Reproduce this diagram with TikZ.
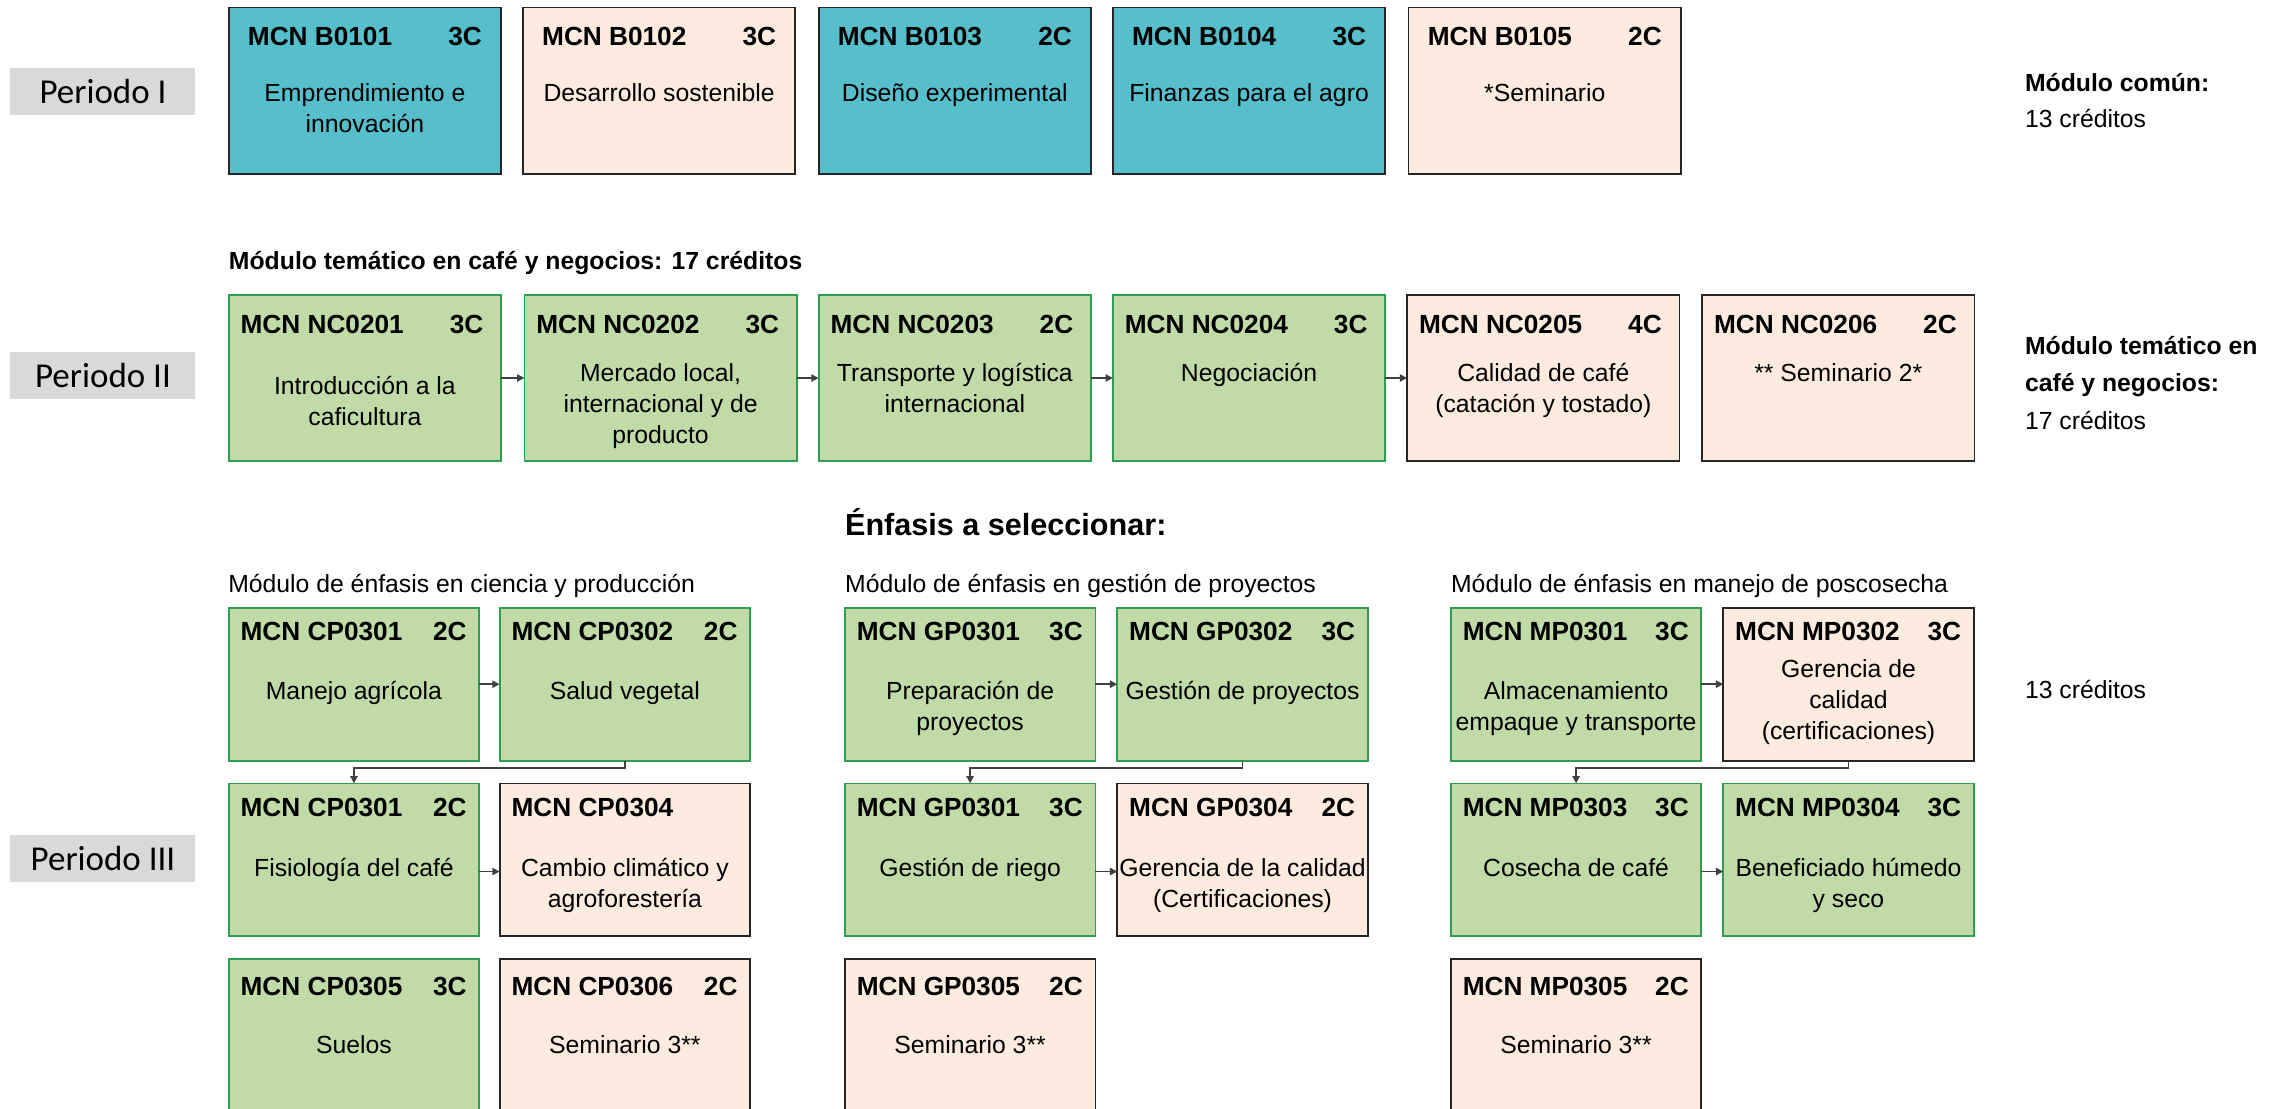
\documentclass[tikz,border=0pt]{standalone}
\usepackage{fontspec}
\setmainfont{Liberation Sans}
\newfontfamily\periodofont{Carlito}
\usetikzlibrary{calc, arrows.meta}
\definecolor{turquesa}{HTML}{56BFCB}
\definecolor{durazno}{HTML}{FDEBDF}
\definecolor{verdeclaro}{HTML}{C1DBA8}
\definecolor{verdeborde}{HTML}{2E9E52}
\definecolor{bordeoscuro}{HTML}{262626}
\definecolor{grisperiodo}{HTML}{D9D9D9}
\definecolor{grisflecha}{HTML}{404040}
% caja de curso: estilo, nombre, esquina, codigo, creditos, bajada del texto, texto
\newcommand{\curso}[7]{%
    \node[caja,#1,anchor=north west] (#2) at (#3) {};
    \node[codigo,anchor=west] (#2c) at ($(#2.north west)+(\padx,\pady)$) {#4};
    \node[codigo,anchor=east] (#2k) at ($(#2.north east)+(-\padk,\pady)$) {#5};
    \node[cuerpo,anchor=north] (#2t) at ($(#2.north)+(0,#6)$) {\strut #7};
}
\newcommand{\padx}{13}
\newcommand{\padk}{13}
\newcommand{\pady}{20}

\begin{document}
\begin{tikzpicture}[x=1pt,y=-1pt,
    caja/.style={draw,line width=1.2pt,inner sep=0pt,outer sep=0pt,minimum width=187pt,minimum height=114pt},
    fila3/.style={minimum width=172pt,minimum height=105pt},
    cajaturq/.style={fill=turquesa,draw=bordeoscuro},
    cajadur/.style={fill=durazno,draw=bordeoscuro},
    cajaverde/.style={fill=verdeclaro,draw=verdeborde},
    codigo/.style={inner sep=0pt,font=\bfseries\fontsize{18}{21}\selectfont},
    cuerpo/.style={inner sep=0pt,align=center,font=\fontsize{17}{21.3}\selectfont},
    periodo/.style={fill=grisperiodo,inner sep=0pt,minimum width=127pt,minimum height=32pt,font=\periodofont\fontsize{24}{28}\selectfont},
    nota/.style={inner sep=0pt,align=left,font=\fontsize{17}{25.6}\selectfont},
    flechita/.style={-{Triangle[length=5pt,width=5pt]},draw=grisflecha,line width=1.1pt}]
    \useasboundingbox (0,0) rectangle (1568,761.3);
    \clip (0,0) rectangle (1568,761.3);
    % periodos
    \node[periodo,anchor=north west] (p1) at (7,46.5) {Periodo I};
    \node[periodo,anchor=north west] (p2) at (7,241.5) {Periodo II};
    \node[periodo,anchor=north west] (p3) at (7,573) {Periodo III};
    % modulo comun
    \curso{cajaturq}{b1}{157,5.2}{MCN B0101}{3C}{49.4}{Emprendimiento e\\innovación}
    \curso{cajadur}{b2}{359,5.2}{MCN B0102}{3C}{49.4}{Desarrollo sostenible}
    \curso{cajaturq}{b3}{562,5.2}{MCN B0103}{2C}{49.4}{Diseño experimental}
    \curso{cajaturq}{b4}{764,5.2}{MCN B0104}{3C}{49.4}{Finanzas para el agro}
    \curso{cajadur}{b5}{967,5.2}{MCN B0105}{2C}{49.4}{*Seminario}
    \node[nota,anchor=north west,font=\fontsize{17}{24.5}\selectfont] (comun) at (1390,45.8) {\strut\textbf{Módulo común:}\\13 créditos};
    % modulo tematico
    \node[inner sep=0pt,anchor=base west,font=\bfseries\fontsize{17}{21}\selectfont] (tit2) at (157,185.2) {Módulo temático en café y negocios: 17 créditos};
    \renewcommand{\padx}{8}\renewcommand{\padk}{12}
    \curso{cajaverde}{nc1}{157,202.5}{MCN NC0201}{3C}{53.5}{Introducción a la\\caficultura}
    \curso{cajaverde}{nc2}{360,202.5}{MCN NC0202}{3C}{44.3}{Mercado local,\\internacional y de\\producto}
    \curso{cajaverde}{nc3}{562,202.5}{MCN NC0203}{2C}{44.3}{Transporte y logística\\internacional}
    \curso{cajaverde}{nc4}{764,202.5}{MCN NC0204}{3C}{44.5}{Negociación}
    \curso{cajadur}{nc5}{966,202.5}{MCN NC0205}{4C}{44.5}{Calidad de café\\(catación y tostado)}
    \curso{cajadur}{nc6}{1168.5,202.5}{MCN NC0206}{2C}{44.5}{** Seminario 2*}
    \draw[flechita] (nc1.east)--(nc2.west);
    \draw[flechita] (nc2.east)--(nc3.west);
    \draw[flechita] (nc3.east)--(nc4.west);
    \draw[flechita] (nc4.east)--(nc5.west);
    \node[nota,anchor=north west] (tema) at (1390,225.3) {\strut\textbf{Módulo temático en}\\\textbf{café y negocios:}\\17 créditos};
    % enfasis
    \node[inner sep=0pt,anchor=base west,font=\bfseries\fontsize{21}{25}\selectfont] (enf) at (580,367.5) {Énfasis a seleccionar:};
    \node[inner sep=0pt,anchor=base west,font=\fontsize{17}{21}\selectfont] (mcp) at (156.5,406.6) {Módulo de énfasis en ciencia y producción};
    \node[inner sep=0pt,anchor=base west,font=\fontsize{17}{21}\selectfont] (mgp) at (580,406.6) {Módulo de énfasis en gestión de proyectos};
    \node[inner sep=0pt,anchor=base west,font=\fontsize{17}{21}\selectfont] (mmp) at (996,406.6) {Módulo de énfasis en manejo de poscosecha};
    \node[inner sep=0pt,anchor=base west,font=\fontsize{17}{21}\selectfont] (cred3) at (1390,479.3) {13 créditos};
    \renewcommand{\padx}{8}\renewcommand{\padk}{8.5}\renewcommand{\pady}{16}
    \curso{cajaverde,fila3}{cp1}{157,417.2}{MCN CP0301}{2C}{48}{Manejo agrícola}
    \curso{cajaverde,fila3}{cp2}{343,417.2}{MCN CP0302}{2C}{48}{Salud vegetal}
    \curso{cajaverde,fila3}{gp1}{580,417.2}{MCN GP0301}{3C}{48}{Preparación de\\proyectos}
    \curso{cajaverde,fila3}{gp2}{767,417.2}{MCN GP0302}{3C}{48}{Gestión de proyectos}
    \curso{cajaverde,fila3}{mp1}{996,417.2}{MCN MP0301}{3C}{48}{Almacenamiento\\empaque y transporte}
    \curso{cajadur,fila3}{mp2}{1183,417.2}{MCN MP0302}{3C}{32.6}{Gerencia de\\calidad\\(certificaciones)}
    \renewcommand{\pady}{16.4}
    \curso{cajaverde,fila3}{cp3}{157,537.8}{MCN CP0301}{2C}{49}{Fisiología del café}
    \curso{cajadur,fila3}{cp4}{343,537.8}{MCN CP0304}{}{49}{Cambio climático y\\agroforestería}
    \curso{cajaverde,fila3}{gp3}{580,537.8}{MCN GP0301}{3C}{49}{Gestión de riego}
    \curso{cajadur,fila3}{gp4}{767,537.8}{MCN GP0304}{2C}{49}{Gerencia de la calidad\\(Certificaciones)}
    \curso{cajaverde,fila3}{mp3}{996,537.8}{MCN MP0303}{3C}{49}{Cosecha de café}
    \curso{cajaverde,fila3}{mp4}{1183,537.8}{MCN MP0304}{3C}{49}{Beneficiado húmedo\\y seco}
    \renewcommand{\pady}{19}
    \curso{cajaverde,fila3,minimum height=125pt}{cp5}{157,658.4}{MCN CP0305}{3C}{50}{Suelos}
    \curso{cajadur,fila3,minimum height=125pt}{cp6}{343,658.4}{MCN CP0306}{2C}{50}{Seminario 3**}
    \curso{cajadur,fila3,minimum height=125pt}{gp5}{580,658.4}{MCN GP0305}{2C}{50}{Seminario 3**}
    \curso{cajadur,fila3,minimum height=125pt}{mp5}{996,658.4}{MCN MP0305}{2C}{50}{Seminario 3**}
    % flechas del periodo III
    \draw[flechita] (cp1.east)--(cp2.west);
    \draw[flechita] (gp1.east)--(gp2.west);
    \draw[flechita] (mp1.east)--(mp2.west);
    \draw[flechita] ([yshift=-8pt]cp3.east)--([yshift=-8pt]cp4.west);
    \draw[flechita] ([yshift=-8pt]gp3.east)--([yshift=-8pt]gp4.west);
    \draw[flechita] ([yshift=-8pt]mp3.east)--([yshift=-8pt]mp4.west);
    \draw[flechita] (cp2.south)-- ++(0,5) -| (cp3.north);
    \draw[flechita] (gp2.south)-- ++(0,5) -| (gp3.north);
    \draw[flechita] (mp2.south)-- ++(0,5) -| (mp3.north);
\end{tikzpicture}
\end{document}
